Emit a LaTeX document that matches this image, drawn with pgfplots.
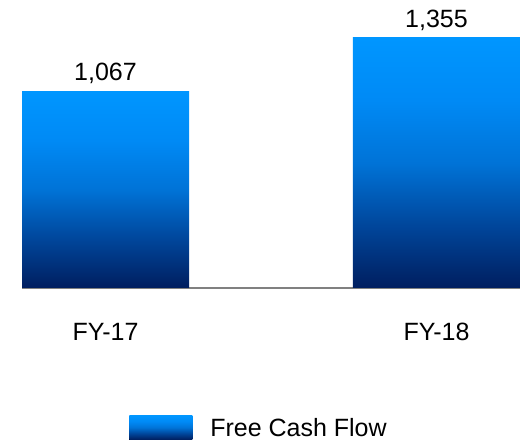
\documentclass[border=0pt]{standalone}
\usepackage{pgfplots}
\pgfplotsset{compat=1.18}
\usepackage{fontspec}
\setmainfont{Liberation Sans}
\definecolor{fcfnavy}{RGB}{0,30,95}
\pgfdeclareverticalshading{barshade}{100bp}{%
  color(0bp)=(fcfnavy); color(25bp)=(fcfnavy);
  color(37.5bp)=(rgb,255:red,0;green,70;blue,155);
  color(50bp)=(rgb,255:red,0;green,115;blue,215);
  color(62.5bp)=(rgb,255:red,0;green,138;blue,245);
  color(75bp)=(rgb,255:red,0;green,150;blue,255);
  color(100bp)=(rgb,255:red,0;green,150;blue,255)}
\begin{document}
\fontsize{25}{30}\selectfont
\begin{tikzpicture}
% page frame: 522 x 441, axis lower-left corner at (0,0)
\useasboundingbox (-22pt,-153pt) rectangle (500pt,288pt);
\begin{axis}[
  scale only axis,
  width=498pt, height=250pt,
  xmin=-0.2523, xmax=1.2523,
  ymin=0, ymax=1355,
  axis x line*=bottom,
  axis y line=none,
  x axis line style={-, draw=gray, line width=1.6pt},
  xtick={0,1},
  xticklabels={FY-17,FY-18},
  major tick length=0pt,
  xticklabel style={yshift=-27pt},
  /pgf/number format/assume math mode=true,
  clip=false,
  nodes near coords,
  every node near coord/.append style={black, inner sep=7pt},
  legend style={at={(0.5,0)}, anchor=center, yshift=-140pt, xshift=-13pt,
    draw=none, fill=none, inner sep=0pt, nodes={inner sep=0pt},
    /tikz/every odd column/.append style={column sep=18pt}},
  legend image code/.code={\fill[shading=barshade] (0pt,-10pt) rectangle (63pt,14pt);},
]
\addplot[ybar, bar width=167pt, bar shift=0pt, draw=none, shading=barshade]
  coordinates {(0,1067)};
\addlegendentry{Free Cash Flow}
\addplot[ybar, bar width=167pt, bar shift=0pt, draw=none, shading=barshade, forget plot]
  coordinates {(1,1355)};
\end{axis}
\end{tikzpicture}
\end{document}
